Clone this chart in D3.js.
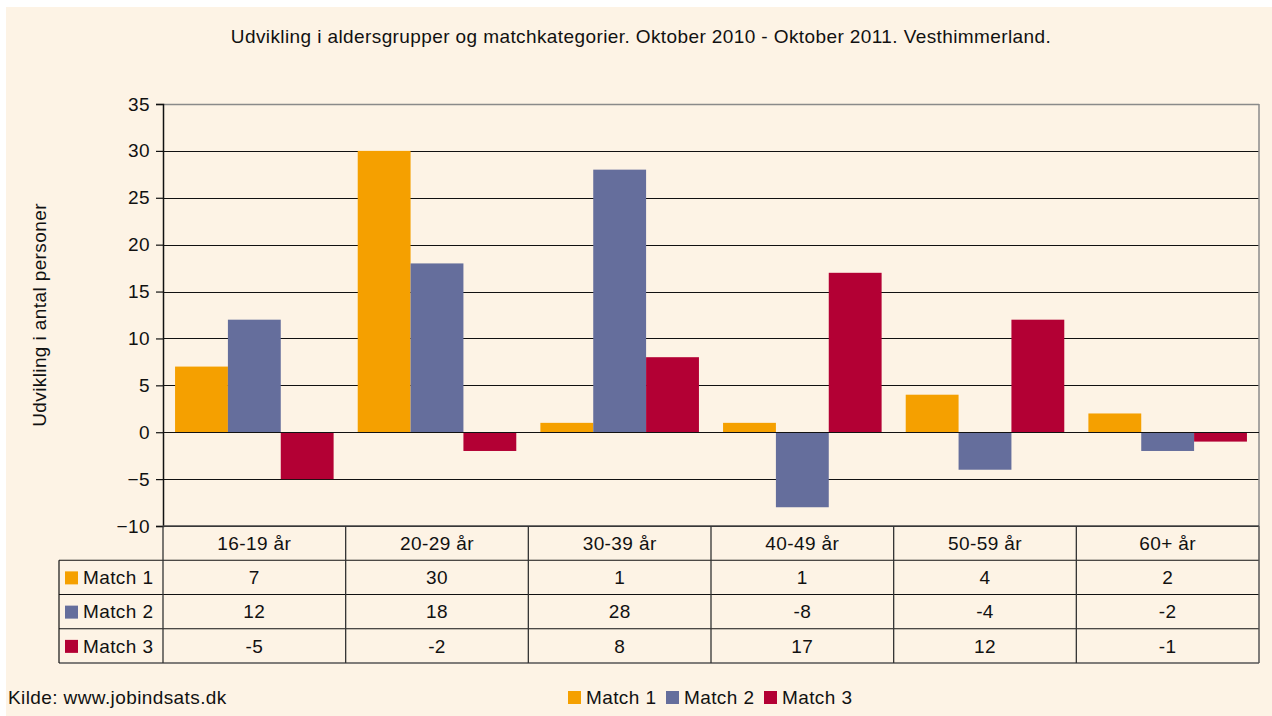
<!DOCTYPE html>
<html>
<head>
<meta charset="utf-8">
<script src="https://cdnjs.cloudflare.com/ajax/libs/d3/7.8.5/d3.min.js"></script>
<style>
body { margin: 0; background: #fff; }
svg text { font-family: "Liberation Sans", Arial, sans-serif; fill: #111; letter-spacing: 0.4px; }
</style>
</head>
<body>
<svg id="chart" width="1272" height="716"></svg>
<script>
// data
var categories = ["16-19 år", "20-29 år", "30-39 år", "40-49 år", "50-59 år", "60+ år"];
var seriesNames = ["Match 1", "Match 2", "Match 3"];
var match1 = [7, 30, 1, 1, 4, 2];
var match2 = [12, 18, 28, -8, -4, -2];
var match3 = [-5, -2, 8, 17, 12, -1];
var seriesColors = ["#F5A000", "#656E9C", "#B30034"];
var yTicks = [35, 30, 25, 20, 15, 10, 5, 0, -5, -10];
var title = "Udvikling i aldersgrupper og matchkategorier. Oktober 2010 - Oktober 2011. Vesthimmerland.";

var values = [match1, match2, match3];

// layout
var PLOT_L = 163, PLOT_R = 1259, PLOT_T = 104, PLOT_B = 526;
var TABLE_L = 59, TABLE_B = 663;
var FONT = 19;

var svg = d3.select("#chart");

// background (white edge top/left, cream fill)
svg.append("rect").attr("x", 0).attr("y", 0).attr("width", 1272).attr("height", 716).attr("fill", "#fff");
svg.append("rect").attr("x", 6).attr("y", 7).attr("width", 1266).attr("height", 709).attr("fill", "#FDF3E5");

var x0 = d3.scaleBand().domain(categories).range([PLOT_L, PLOT_R]).padding(0);
var bw = x0.bandwidth();
var x1 = d3.scaleBand().domain(seriesNames).range([bw * 0.066, bw * 0.934]).padding(0);
var y = d3.scaleLinear().domain([-10, 35]).range([PLOT_B, PLOT_T]);

// title
svg.append("text")
	.attr("x", 641).attr("y", 43)
	.attr("text-anchor", "middle")
	.style("font-size", FONT + "px")
	.text(title);

// gridlines
svg.append("g").selectAll("line").data(yTicks.filter(function(d){return d != 35;})).enter()
	.append("line")
	.attr("x1", PLOT_L).attr("x2", PLOT_R)
	.attr("y1", function(d){return Math.round(y(d)) + 0.5;})
	.attr("y2", function(d){return Math.round(y(d)) + 0.5;})
	.attr("stroke", "#111").attr("stroke-width", 1.2);

// top and right border (grey)
svg.append("line").attr("x1", PLOT_L).attr("x2", PLOT_R).attr("y1", PLOT_T + 0.5).attr("y2", PLOT_T + 0.5)
	.attr("stroke", "#8a8a8a").attr("stroke-width", 1.5);
svg.append("line").attr("x1", PLOT_R).attr("x2", PLOT_R).attr("y1", PLOT_T).attr("y2", PLOT_B)
	.attr("stroke", "#8a8a8a").attr("stroke-width", 1.5);

// bars
var groups = svg.append("g").selectAll("g").data(categories).enter()
	.append("g")
	.attr("transform", function(d){return "translate(" + x0(d) + ",0)";});
groups.selectAll("rect").data(function(d, i){
		return seriesNames.map(function(s, j){return {s: s, v: values[j][i], c: seriesColors[j]};});
	}).enter()
	.append("rect")
	.attr("x", function(d){return x1(d.s);})
	.attr("width", x1.bandwidth())
	.attr("y", function(d){return y(Math.max(0, d.v));})
	.attr("height", function(d){return Math.abs(y(d.v) - y(0));})
	.attr("fill", function(d){return d.c;});

// zero line on top of bars
svg.append("line").attr("x1", PLOT_L).attr("x2", PLOT_R)
	.attr("y1", Math.round(y(0)) + 0.5).attr("y2", Math.round(y(0)) + 0.5)
	.attr("stroke", "#111").attr("stroke-width", 1.2);

// y axis
var yAxis = d3.axisLeft(y).tickValues(yTicks).tickSize(7).tickPadding(6);
var yg = svg.append("g").attr("transform", "translate(" + PLOT_L + ",0)").call(yAxis);
yg.select(".domain").attr("stroke", "#111").attr("stroke-width", 1.5);
yg.selectAll(".tick line").attr("stroke", "#111").attr("stroke-width", 1.2);
yg.selectAll(".tick text").style("font-size", FONT + "px").style("font-family", "Liberation Sans, Arial, sans-serif").attr("fill", "#111");

// y label
svg.append("text")
	.attr("transform", "translate(46,315) rotate(-90)")
	.attr("text-anchor", "middle")
	.style("font-size", FONT + "px")
	.text("Udvikling i antal personer");

// data table
var rows = d3.scaleBand().domain(["cat"].concat(seriesNames)).range([PLOT_B, TABLE_B]);
var rh = rows.bandwidth();
var table = svg.append("g");

// horizontal lines
table.append("line").attr("x1", PLOT_L).attr("x2", PLOT_R).attr("y1", PLOT_B).attr("y2", PLOT_B)
	.attr("stroke", "#444").attr("stroke-width", 1.5);
seriesNames.forEach(function(s){
	table.append("line").attr("x1", TABLE_L).attr("x2", PLOT_R)
		.attr("y1", rows(s)).attr("y2", rows(s))
		.attr("stroke", "#111").attr("stroke-width", 1.2);
});
table.append("line").attr("x1", TABLE_L).attr("x2", PLOT_R).attr("y1", TABLE_B).attr("y2", TABLE_B)
	.attr("stroke", "#555").attr("stroke-width", 1.5);

// vertical lines
table.append("line").attr("x1", TABLE_L).attr("x2", TABLE_L).attr("y1", rows("Match 1")).attr("y2", TABLE_B)
	.attr("stroke", "#111").attr("stroke-width", 1.2);
table.selectAll(".vline").data(categories).enter()
	.append("line")
	.attr("class", "vline")
	.attr("x1", function(d){return x0(d);}).attr("x2", function(d){return x0(d);})
	.attr("y1", PLOT_B).attr("y2", TABLE_B)
	.attr("stroke", "#333").attr("stroke-width", 1.3);
table.append("line").attr("x1", PLOT_R).attr("x2", PLOT_R).attr("y1", PLOT_B).attr("y2", TABLE_B)
	.attr("stroke", "#555").attr("stroke-width", 1.5);

// category labels
table.selectAll(".cat").data(categories).enter()
	.append("text")
	.attr("x", function(d){return x0(d) + bw / 2;})
	.attr("y", rows("cat") + rh / 2)
	.attr("dy", "0.35em")
	.attr("text-anchor", "middle")
	.style("font-size", FONT + "px")
	.text(function(d){return d;});

// series rows
seriesNames.forEach(function(s, j){
	var ry = rows(s);
	table.append("rect")
		.attr("x", 65).attr("y", ry + rh / 2 - 6)
		.attr("width", 13).attr("height", 13)
		.attr("fill", seriesColors[j]);
	table.append("text")
		.attr("x", 83).attr("y", ry + rh / 2)
		.attr("dy", "0.35em")
		.style("font-size", FONT + "px")
		.text(s);
	table.selectAll(".v" + j).data(values[j]).enter()
		.append("text")
		.attr("x", function(d, i){return x0(categories[i]) + bw / 2;})
		.attr("y", ry + rh / 2)
		.attr("dy", "0.35em")
		.attr("text-anchor", "middle")
		.style("font-size", FONT + "px")
		.text(function(d){return d;});
});

// source
svg.append("text")
	.attr("x", 8).attr("y", 704)
	.style("font-size", FONT + "px")
	.text("Kilde: www.jobindsats.dk");

// legend
var legendX = [568, 666, 764];
var legend = svg.append("g").selectAll("g").data(seriesNames).enter()
	.append("g")
	.attr("transform", function(d, i){return "translate(" + legendX[i] + ",691)";});
legend.append("rect")
	.attr("width", 13).attr("height", 13)
	.attr("fill", function(d, i){return seriesColors[i];});
legend.append("text")
	.attr("x", 18).attr("y", 13)
	.style("font-size", FONT + "px")
	.text(function(d){return d;});
</script>
</body>
</html>
